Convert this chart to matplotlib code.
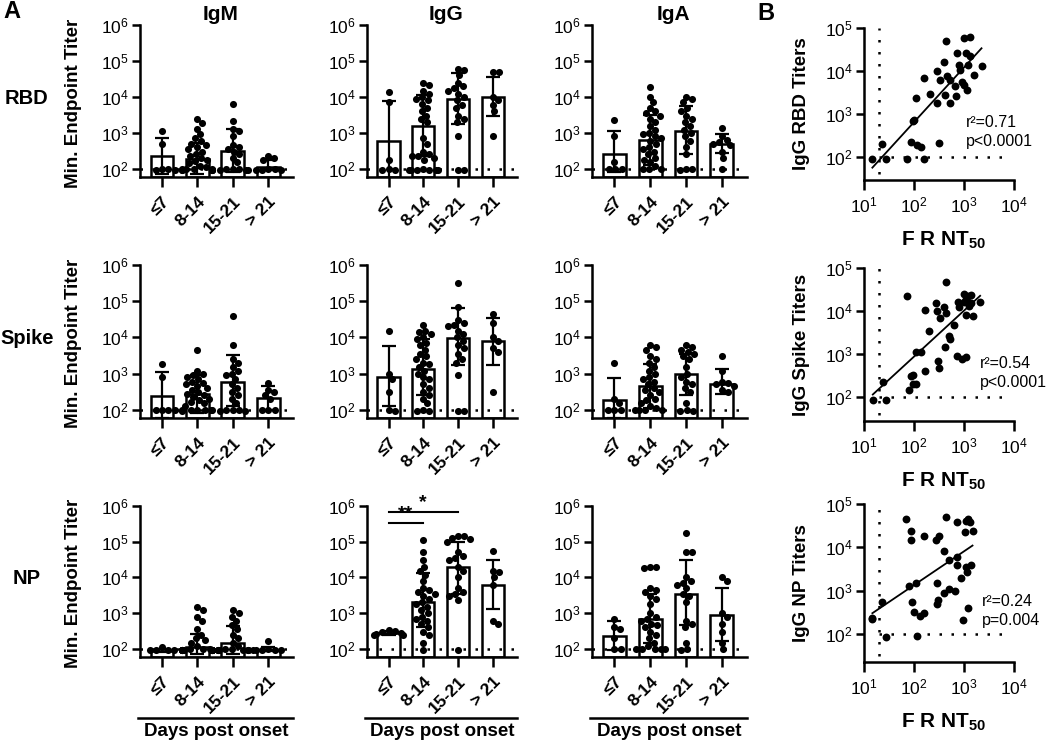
import numpy as np
import matplotlib
matplotlib.use("Agg")
import matplotlib.pyplot as plt
from matplotlib.ticker import NullLocator

plt.rcParams['font.family'] = ['Liberation Sans', 'DejaVu Sans']
plt.rcParams['mathtext.fontset'] = 'custom'
plt.rcParams['mathtext.rm'] = 'Liberation Sans'
plt.rcParams['mathtext.bf'] = 'Liberation Sans:bold'
plt.rcParams['mathtext.it'] = 'Liberation Sans:italic'
plt.rcParams['mathtext.default'] = 'regular'

# ---------------- data ----------------
categories = ['≤7', '8-14', '15-21', '> 21']
isotypes = ['IgM', 'IgG', 'IgA']
antigens = ['RBD', 'Spike', 'NP']

# RBD
rbd_igm_mean = [220, 190, 320, 115]
rbd_igm_lo = [70, 70, 80, 90]
rbd_igm_hi = [700, 520, 1300, 170]
rbd_igm_pts = [[1100, 480, 100, 100, 95, 95],
               [2500, 1900, 1300, 900, 700, 600, 500, 450, 400, 350, 300, 260, 230, 200, 180, 160, 140,
                120, 110, 100, 100, 100, 100, 95, 95, 95, 90, 90],
               [6500, 2100, 1300, 1100, 800, 450, 400, 350, 300, 250, 200, 150, 100, 100, 100, 95, 95, 90],
               [220, 200, 180, 100, 100, 95, 95, 90]]
rbd_igg_mean = [600, 1500, 9000, 10000]
rbd_igg_lo = [50, 230, 1800, 3000]
rbd_igg_hi = [7500, 11000, 45000, 35000]
rbd_igg_pts = [[14000, 7000, 170, 100, 95, 90],
               [25000, 22000, 15000, 12000, 10000, 9000, 8000, 6500, 5000, 4000, 3000, 2500, 2000, 700, 500,
                300, 250, 230, 220, 200, 180, 100, 90, 90, 90, 90, 90, 90],
               [60000, 55000, 40000, 25000, 20000, 18000, 15000, 12000, 10000, 8000, 6000, 5000, 3000, 2500,
                2000, 800, 90, 90],
               [50000, 50000, 10000, 8000, 6000, 4000, 800]]
rbd_iga_mean = [260, 650, 1100, 500]
rbd_iga_lo = [80, 130, 250, 280]
rbd_iga_hi = [1100, 3200, 5500, 950]
rbd_iga_pts = [[2300, 800, 150, 100, 100, 100],
               [19000, 10000, 7000, 5000, 4000, 3500, 3000, 2500, 2000, 1500, 1200, 1000, 900, 800, 700, 600,
                500, 400, 350, 300, 250, 200, 180, 150, 120, 100, 100, 100],
               [10000, 9000, 7000, 5000, 4000, 3000, 2500, 2000, 1500, 1200, 1000, 800, 600, 400, 250, 100,
                100, 90],
               [1400, 800, 650, 550, 500, 450, 300, 200, 100]]

# Spike
spk_igm_mean = [240, 270, 600, 210]
spk_igm_lo = [60, 80, 130, 100]
spk_igm_hi = [1100, 900, 3300, 450]
spk_igm_pts = [[1800, 800, 100, 100, 100, 95],
               [4500, 1200, 1000, 900, 800, 700, 600, 550, 500, 450, 400, 350, 300, 280, 250, 230, 200, 180,
                160, 150, 130, 100, 100, 100, 100, 95, 95, 90],
               [38000, 6000, 2500, 2000, 1500, 1200, 1000, 900, 700, 500, 400, 300, 250, 200, 150, 100, 100,
                100, 90, 90],
               [550, 350, 300, 250, 200, 100, 100, 95]]
spk_igg_mean = [800, 1300, 9500, 8000]
spk_igg_lo = [130, 250, 1700, 1700]
spk_igg_hi = [5800, 9000, 65000, 35000]
spk_igg_pts = [[15000, 1000, 700, 300, 100, 90],
               [22000, 15000, 14000, 12000, 10000, 9000, 7000, 6000, 4500, 3500, 3000, 2500, 2000, 1800, 1500,
                1200, 1000, 800, 700, 500, 400, 300, 250, 200, 150, 100, 90, 90],
               [320000, 70000, 30000, 25000, 22000, 20000, 15000, 12000, 10000, 8000, 6000, 5000, 3500, 2500,
                2000, 900, 90, 90],
               [45000, 25000, 10000, 8000, 5000, 4000, 300]]
spk_iga_mean = [180, 450, 1000, 520]
spk_iga_lo = [60, 110, 260, 280]
spk_iga_hi = [750, 1800, 3500, 1300]
spk_iga_pts = [[2000, 200, 150, 100, 100, 95],
               [6000, 5500, 4500, 3000, 2500, 2000, 1500, 1200, 1000, 800, 700, 600, 500, 400, 350, 300, 250,
                200, 180, 150, 130, 110, 100, 100, 100, 100],
               [6000, 5500, 4500, 4000, 3500, 3000, 2500, 1500, 1000, 800, 600, 500, 400, 300, 150, 100, 90, 90],
               [3000, 1200, 600, 550, 500, 450, 350, 300]]

# NP
np_igm_mean = [85, 110, 150, 95]
np_igm_lo = [80, 70, 70, 85]
np_igm_hi = [100, 260, 440, 110]
np_igm_pts = [[110, 95, 90, 90, 90],
              [1500, 1200, 800, 600, 350, 250, 200, 180, 150, 120, 100, 100, 100, 90, 90, 90, 90, 90, 90, 90,
               90, 90, 90, 90, 90, 90, 90],
              [1200, 1000, 800, 600, 450, 350, 250, 200, 150, 120, 100, 100, 90, 90, 90, 90, 90, 90, 90, 90],
              [170, 100, 95, 90, 90, 90, 90]]
np_igg_mean = [270, 2000, 20000, 6000]
np_igg_lo = [240, 400, 3500, 1300]
np_igg_hi = [310, 13000, 100000, 30000]
np_igg_pts = [[330, 320, 300, 280, 260, 250, 240],
              [110000, 50000, 30000, 20000, 15000, 12000, 8000, 5000, 4500, 4000, 3500, 3000, 2500, 2000, 1800,
               1500, 1200, 1000, 800, 700, 600, 500, 400, 300, 250, 150, 90],
              [140000, 140000, 130000, 120000, 100000, 50000, 40000, 35000, 30000, 20000, 15000, 10000, 5000,
               4000, 3500, 3000, 2300, 90],
              [55000, 15000, 14000, 10000, 6000, 600, 500]]
np_iga_mean = [230, 700, 3500, 900]
np_iga_lo = [90, 150, 450, 170]
np_iga_hi = [600, 3500, 30000, 5000]
np_iga_pts = [[700, 400, 350, 200, 100, 100],
              [20000, 19000, 18000, 5000, 4500, 4000, 3000, 2500, 1800, 1000, 800, 700, 600, 500, 450, 400, 300,
               250, 200, 150, 120, 100, 100, 100, 100, 100],
              [180000, 50000, 50000, 10000, 8000, 7000, 6000, 5000, 3500, 3000, 2000, 600, 500, 400, 150, 100, 90],
              [10000, 8000, 1000, 800, 500, 300, 150, 100]]

detection_limit = 100
sig_pairs = [(0, 1, '**', 3.4e5), (0, 2, '*', 7.0e5)]  # for IgG NP

# Panel B: FRNT50 vs IgG titers
rbd_frnt = [14.7, 22.7, 27, 72, 88, 100, 97, 115, 138, 162, 110, 160, 205, 310, 287, 295, 330, 400, 435, 425,
            460, 535, 515, 675, 700, 730, 780, 815, 910, 980, 1020, 1290, 1110, 1290, 1200, 1150, 1550, 2240]
rbd_titer = [90, 204, 90, 90, 230, 740, 680, 190, 168, 90, 2350, 6900, 2950, 210, 9800, 1800, 6300, 16600,
             49000, 2800, 7600, 6300, 1860, 4600, 2600, 26000, 14000, 10700, 5500, 4800, 59000, 62000, 26000,
             22000, 14000, 3700, 8100, 13000]
spk_frnt = [15, 23.5, 28, 72, 80, 86, 95, 95, 112, 112, 140, 163, 163, 204, 275, 283, 300, 314, 325, 390, 410,
            440, 440, 510, 525, 645, 710, 745, 800, 910, 1000, 1000, 1100, 1120, 1200, 1260, 1350, 1120, 1480,
            1380, 2100]
spk_titer = [87, 224, 84, 22000, 148, 300, 330, 204, 200, 1100, 1100, 10500, 400, 3500, 15000, 10000, 700, 470,
             6800, 12500, 1450, 9100, 47000, 2600, 2200, 4800, 890, 16000, 12500, 760, 25000, 16000, 870, 19000,
             22000, 13000, 23000, 8200, 7800, 15000, 16000]
np_frnt = [14.7, 14.7, 22.6, 27, 69, 89, 86, 81, 92, 100, 110, 113, 130, 162, 160, 270, 316, 285, 295, 308, 400,
           405, 430, 500, 510, 660, 710, 740, 740, 890, 970, 1100, 1050, 1220, 1120, 1170, 1220, 1300, 1480, 1350]
np_titer = [234, 215, 550, 85, 46000, 24000, 15000, 1300, 540, 316, 1500, 88, 265, 300, 18000, 15000, 18000,
            1480, 490, 620, 870, 8000, 49000, 1100, 5000, 1000, 38000, 5900, 3800, 2000, 205, 41000, 23000, 45000,
            3500, 2700, 390, 38000, 24000, 3800]
# log-log regression: (slope, intercept)
rbd_fit = (1.27, 0.274)
spk_fit = (1.07, 0.798)
np_fit = (0.78, 1.567)
rbd_stats = 'r²=0.71\np<0.0001'
spk_stats = 'r²=0.54\np<0.0001'
np_stats = 'r²=0.24\np=0.004'
frnt_cutoff = 20

# ---------------- layout ----------------
W, H = 1050, 741
fig = plt.figure(figsize=(W / 100, H / 100), dpi=100)


def add_ax(l, t, r, b):
    return fig.add_axes([l / W, 1 - b / H, (r - l) / W, (b - t) / H])


def ftext(x, y, s, **kw):
    return fig.text(x / W, 1 - y / H, s, **kw)


col_x = [(140, 293), (367, 517), (592, 747)]
row_y = [(25, 177), (265, 418), (506, 657)]
b_x = (864, 1014)
b_y = [(28, 180), (268, 421), (504, 662)]

YMIN = 10 ** 1.77
LW = 1.8
TICK_FS = 12.5


def swarm(vals, dec_px, unit_px, d=6.4, lim=0.42):
    vals = np.asarray(vals, float)
    ys = np.log10(vals) * dec_px
    order = np.argsort(-vals)
    placed = []
    offs = np.zeros(len(vals))
    for i in order:
        y = ys[i]
        cands = [0.0]
        for (px, py) in placed:
            dy = y - py
            if abs(dy) < d:
                dx = np.sqrt(d * d - dy * dy)
                cands += [px + dx, px - dx]
        cands = sorted(cands, key=abs)
        chosen = cands[0]
        for c in cands:
            if all((c - px) ** 2 + (y - py) ** 2 >= d * d - 1e-6 for (px, py) in placed):
                chosen = c
                break
        placed.append((chosen, y))
        offs[i] = np.clip(chosen / unit_px, -lim, lim)
    return offs


panel_data = {
    ('RBD', 'IgM'): (rbd_igm_mean, rbd_igm_lo, rbd_igm_hi, rbd_igm_pts),
    ('RBD', 'IgG'): (rbd_igg_mean, rbd_igg_lo, rbd_igg_hi, rbd_igg_pts),
    ('RBD', 'IgA'): (rbd_iga_mean, rbd_iga_lo, rbd_iga_hi, rbd_iga_pts),
    ('Spike', 'IgM'): (spk_igm_mean, spk_igm_lo, spk_igm_hi, spk_igm_pts),
    ('Spike', 'IgG'): (spk_igg_mean, spk_igg_lo, spk_igg_hi, spk_igg_pts),
    ('Spike', 'IgA'): (spk_iga_mean, spk_iga_lo, spk_iga_hi, spk_iga_pts),
    ('NP', 'IgM'): (np_igm_mean, np_igm_lo, np_igm_hi, np_igm_pts),
    ('NP', 'IgG'): (np_igg_mean, np_igg_lo, np_igg_hi, np_igg_pts),
    ('NP', 'IgA'): (np_iga_mean, np_iga_lo, np_iga_hi, np_iga_pts),
}


def style_axis(ax):
    for s in ['top', 'right']:
        ax.spines[s].set_visible(False)
    for s in ['left', 'bottom']:
        ax.spines[s].set_linewidth(LW)
    ax.tick_params(axis='both', which='major', width=LW, length=6, labelsize=TICK_FS, pad=2)
    ax.yaxis.set_minor_locator(NullLocator())
    ax.patch.set_alpha(0)


xpos = np.arange(len(categories))
for r, ag in enumerate(antigens):
    for c, iso in enumerate(isotypes):
        l, rr = col_x[c]
        t, b = row_y[r]
        ax = add_ax(l, t, rr, b)
        mean, lo, hi, pts = panel_data[(ag, iso)]
        mean = np.array(mean, float)
        ax.set_yscale('log')
        ax.set_ylim(YMIN, 1e6)
        ax.set_xlim(-0.62, 3.7)
        ax.bar(xpos, mean - YMIN, bottom=YMIN, width=0.64, facecolor='white', edgecolor='black',
               linewidth=LW, zorder=1)
        ax.axhline(detection_limit, color='black', lw=1.8, ls=(0, (1, 3.8)), zorder=2)
        unit_px = (rr - l) / 4.32
        dec_px = (b - t) / (6 - np.log10(YMIN))
        for i, vals in enumerate(pts):
            offs = swarm(vals, dec_px, unit_px)
            ax.scatter(xpos[i] + offs, vals, s=26, color='black', zorder=3, linewidths=0, clip_on=False)
        ax.errorbar(xpos, mean, yerr=[mean - np.array(lo), np.array(hi) - mean], fmt='none', ecolor='black',
                    elinewidth=1.6, capsize=5, capthick=1.6, zorder=4)
        ax.set_yticks([1e2, 1e3, 1e4, 1e5, 1e6])
        ax.set_xticks(xpos)
        style_axis(ax)
        ax.set_xticklabels(categories, rotation=45, ha='right', va='top', rotation_mode='anchor',
                           fontsize=12.5, fontweight='bold')
        ax.tick_params(axis='x', length=7, pad=5)
        if (ag, iso) == ('NP', 'IgG'):
            for (a, bb, lab, yv) in sig_pairs:
                ax.plot([xpos[a], xpos[bb]], [yv, yv], color='black', lw=1.5, clip_on=False)
                ax.text((xpos[a] + xpos[bb]) / 2, yv * 1.02, lab, ha='center', va='bottom', fontsize=14,
                        fontweight='bold')
        if c == 0:
            ftext(74, (t + b) / 2 + 2, 'Min. Endpoint Titer', rotation=90, ha='center', va='center',
                  fontsize=13.5, fontweight='bold')
        if r == 0:
            ftext((l + rr) / 2 + 4, 15, iso, ha='center', va='center', fontsize=15, fontweight='bold')
        if r == 2:
            fig.add_artist(plt.Line2D([(l - 2) / W, (rr) / W], [1 - 718 / H, 1 - 718 / H], color='black',
                                      lw=1.8))
            ftext((l + rr) / 2, 731, 'Days post onset', ha='center', va='center', fontsize=13.5,
                  fontweight='bold')
    ftext(27, (row_y[r][0] + row_y[r][1]) / 2 - 3, ag, ha='center', va='center', fontsize=14.5,
          fontweight='bold')

ftext(3, 12, 'A', ha='left', va='center', fontsize=17, fontweight='bold')
ftext(757, 14, 'B', ha='left', va='center', fontsize=17, fontweight='bold')

# Panel B
b_sets = [(rbd_frnt, rbd_titer, rbd_fit, rbd_stats, 'IgG RBD Titers', (966, 132)),
          (spk_frnt, spk_titer, spk_fit, spk_stats, 'IgG Spike Titers', (980, 373)),
          (np_frnt, np_titer, np_fit, np_stats, 'IgG NP Titers', (982, 611))]
b_ylow = [10 ** 1.47, 10 ** 1.44, 10 ** 1.35]
for r, (fx, fy, fit, stats, ylab, spos) in enumerate(b_sets):
    t, b = b_y[r]
    ax = add_ax(b_x[0], t, b_x[1], b)
    ax.set_xscale('log')
    ax.set_yscale('log')
    ax.set_xlim(10, 1e4)
    ax.set_ylim(b_ylow[r], 1e5)
    ax.scatter(fx, fy, s=32, color='black', linewidths=0, zorder=3, clip_on=False)
    xs = np.array([min(fx), max(fx)])
    ax.plot(xs, 10 ** (fit[0] * np.log10(xs) + fit[1]), color='black', lw=1.3, zorder=2)
    ax.plot([frnt_cutoff, frnt_cutoff], [b_ylow[r] * 1.35, 1e5], color='black', lw=1.8,
            ls=(0, (1, 3.8)), zorder=1)
    ax.plot([frnt_cutoff, 8000], [detection_limit, detection_limit], color='black', lw=1.8,
            ls=(0, (1, 3.8)), zorder=1)
    ax.set_xticks([1e1, 1e2, 1e3, 1e4])
    ax.set_yticks([1e2, 1e3, 1e4, 1e5])
    ax.xaxis.set_minor_locator(NullLocator())
    style_axis(ax)
    ax.tick_params(axis='x', length=7, pad=4)
    ftext((b_x[0] + b_x[1]) / 2 + 5, b + 60, r'$\mathbf{F\ R\ NT_{50}}$', ha='center', va='center',
          fontsize=15)
    ftext(802, (t + b) / 2, ylab, rotation=90, ha='center', va='center', fontsize=13.5, fontweight='bold')
    ftext(spos[0], spos[1], stats, ha='left', va='center', fontsize=11.5, linespacing=1.3)

fig.savefig('out.png', dpi=100)
